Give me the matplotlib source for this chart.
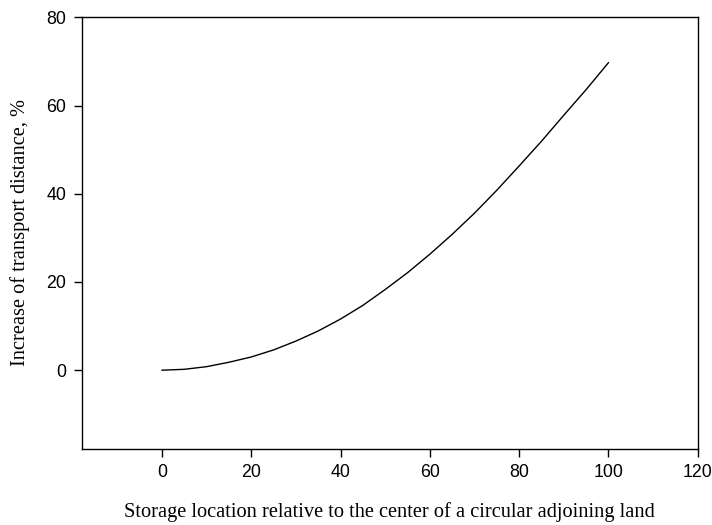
import matplotlib.pyplot as plt

# distance of storage point from land centre, % of radius
location = [0, 5, 10, 15, 20, 25, 30, 35, 40, 45, 50,
            55, 60, 65, 70, 75, 80, 85, 90, 95, 100]
# increase of transport distance, %
increase = [0, 0.2, 0.8, 1.8, 3.0, 4.6, 6.6, 8.9, 11.6, 14.7, 18.3,
            22.1, 26.3, 30.8, 35.6, 40.8, 46.3, 51.9, 57.8, 63.6, 69.7]

x_ticks = [0, 20, 40, 60, 80, 100, 120]
y_ticks = [0, 20, 40, 60, 80]

fig = plt.figure(figsize=(7.12, 5.25), dpi=100)
ax = fig.add_axes([81.7 / 712, 1 - 448.7 / 525, (697.7 - 81.7) / 712, (448.7 - 17.3) / 525])

ax.plot(location, increase, color="black", linewidth=1.0)

ax.set_xlim(-18, 120)
ax.set_ylim(-17.8, 80)
ax.set_xticks(x_ticks)
ax.set_yticks(y_ticks)
ax.tick_params(direction="out", length=6, width=1, labelsize=12.8, pad=5)
for lab in ax.get_xticklabels() + ax.get_yticklabels():
    lab.set_family("Liberation Sans")
for sp in ax.spines.values():
    sp.set_linewidth(1.0)

ax.set_xlabel("Storage location relative to the center of a circular adjoining land",
              family="Liberation Serif", fontsize=14.7, labelpad=15)
ax.set_ylabel("Increase of transport distance, %",
              family="Liberation Serif", fontsize=14.7, labelpad=12)

fig.savefig("out.png", dpi=100)
